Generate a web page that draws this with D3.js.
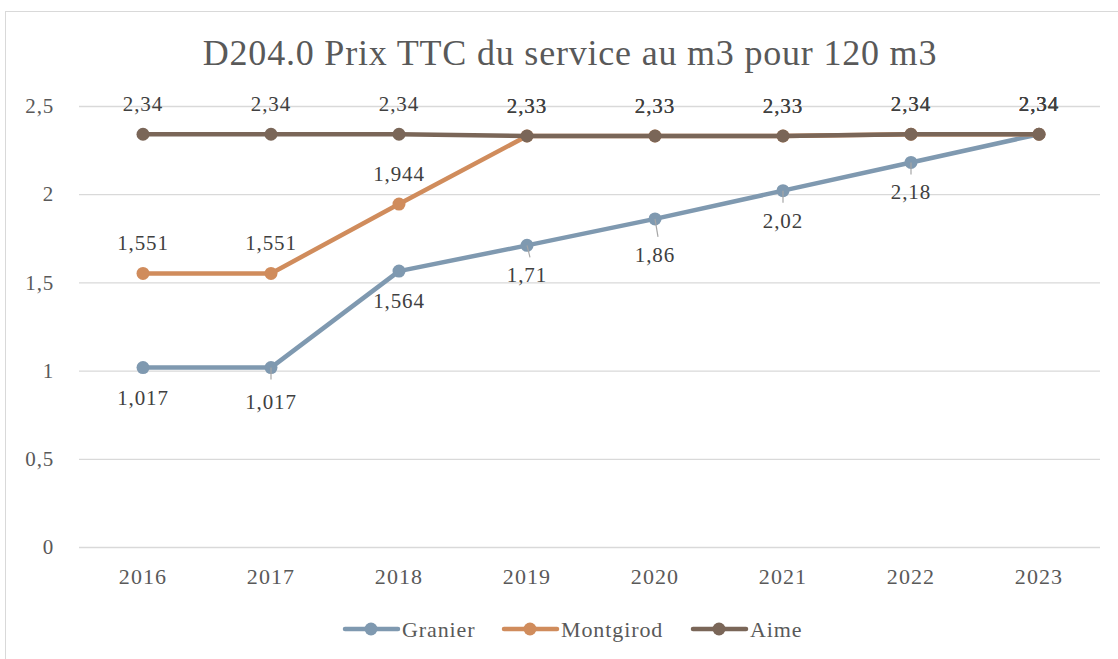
<!DOCTYPE html>
<html><head><meta charset="utf-8">
<script src="https://cdn.jsdelivr.net/npm/d3@7"></script>
<style>body{margin:0;background:#fff;}svg{display:block;}</style>
</head><body>
<script>
const title = "D204.0 Prix TTC du service au m3 pour 120 m3";
const years = ["2016","2017","2018","2019","2020","2021","2022","2023"];
const granier = [1.017,1.017,1.564,1.71,1.86,2.02,2.18,2.34];
const montgirod = [1.551,1.551,1.944,2.33,2.33,2.33,2.34,2.34];
const aime = [2.34,2.34,2.34,2.33,2.33,2.33,2.34,2.34];
const yTicks = [0,0.5,1,1.5,2,2.5];
const seriesNames = ["Granier","Montgirod","Aime"];
const seriesColors = ["#7f99b0","#d08c5c","#7a6658"];

const W=1118,H=659;
const font = "'Liberation Serif', serif";
const svg = d3.select("body").append("svg").attr("width",W).attr("height",H);
svg.append("rect").attr("x",5.5).attr("y",11.5).attr("width",W).attr("height",H)
  .attr("fill","#fff").attr("stroke","#d9d9d9").attr("stroke-width",1);

const x = d3.scaleBand().domain(years).range([79,1103]);
const y = d3.scaleLinear().domain([0,2.5]).range([547,106]);
const cx = d => x(d)+x.bandwidth()/2;
const fmt = v => String(v).replace(".",",");

svg.append("text").attr("x",570).attr("y",65).attr("text-anchor","middle")
  .attr("font-family",font).attr("font-size",36).attr("letter-spacing",0.8).attr("fill","#595959").text(title);

// grid + y axis
const yAxis = d3.axisLeft(y).tickValues(yTicks).tickSize(-(1100-79)).tickFormat(fmt);
const ga = svg.append("g").attr("transform","translate(79,0)").call(yAxis);
ga.select(".domain").remove();
ga.selectAll("line").attr("stroke","#d9d9d9").attr("stroke-width",1.3);
ga.selectAll("text").attr("x",-25).attr("font-family",font).attr("font-size",21)
  .attr("letter-spacing",0.8).attr("fill","#595959");

const xAxis = d3.axisBottom(x).tickSize(0).tickPadding(21);
const gx = svg.append("g").attr("transform","translate(0,547)").call(xAxis);
gx.select(".domain").remove();
gx.selectAll("text").attr("font-family",font).attr("font-size",22).attr("letter-spacing",1.1).attr("fill","#595959");

const series = [granier,montgirod,aime];
const line = d3.line().x((d,i)=>cx(years[i])).y(d=>y(d));

series.forEach((s,k)=>{
  const g = svg.append("g");
  g.append("path").datum(s).attr("d",line).attr("fill","none")
    .attr("stroke",seriesColors[k]).attr("stroke-width",4.5).attr("stroke-linejoin","round");
  g.selectAll("circle").data(s).join("circle")
    .attr("cx",(d,i)=>cx(years[i])).attr("cy",d=>y(d)).attr("r",6.5).attr("fill",seriesColors[k]);
});

// leader lines for Granier labels
const leaderIdx = [1,3,4,5,6];
svg.append("g").selectAll("line").data(leaderIdx).join("line")
  .attr("x1",i=>cx(years[i])).attr("x2",i=>cx(years[i])+(i===3||i===4?3:0))
  .attr("y1",i=>y(granier[i])).attr("y2",i=>y(granier[i])+(i===4?18:12))
  .attr("stroke","#a6a6a6").attr("stroke-width",1.2);

// data labels
function labels(s, below){
  svg.append("g").selectAll("text").data(s).join("text")
    .attr("x",(d,i)=>cx(years[i]))
    .attr("y",(d,i)=>{
      if(below && i<7){ const extra = (i===4?6:(i===1?4:0)); return y(d)+37+extra; }
      return y(d)-23;
    })
    .attr("text-anchor","middle").attr("font-family",font).attr("font-size",21)
    .attr("letter-spacing",0.9).attr("fill","#404040")
    .text(d=>fmt(d));
}
labels(granier,true);
labels(montgirod,false);
labels(aime,false);

// legend
const legX = [345,504,693];
const lg = svg.append("g");
seriesNames.forEach((n,k)=>{
  lg.append("line").attr("x1",legX[k]).attr("x2",legX[k]+53).attr("y1",629).attr("y2",629)
    .attr("stroke",seriesColors[k]).attr("stroke-width",4.5).attr("stroke-linecap","round");
  lg.append("circle").attr("cx",legX[k]+26).attr("cy",629).attr("r",6.5).attr("fill",seriesColors[k]);
  lg.append("text").attr("x",legX[k]+57).attr("y",637).attr("font-family",font).attr("font-size",22)
    .attr("letter-spacing",0.9).attr("fill","#595959").text(n);
});
</script>
</body></html>
